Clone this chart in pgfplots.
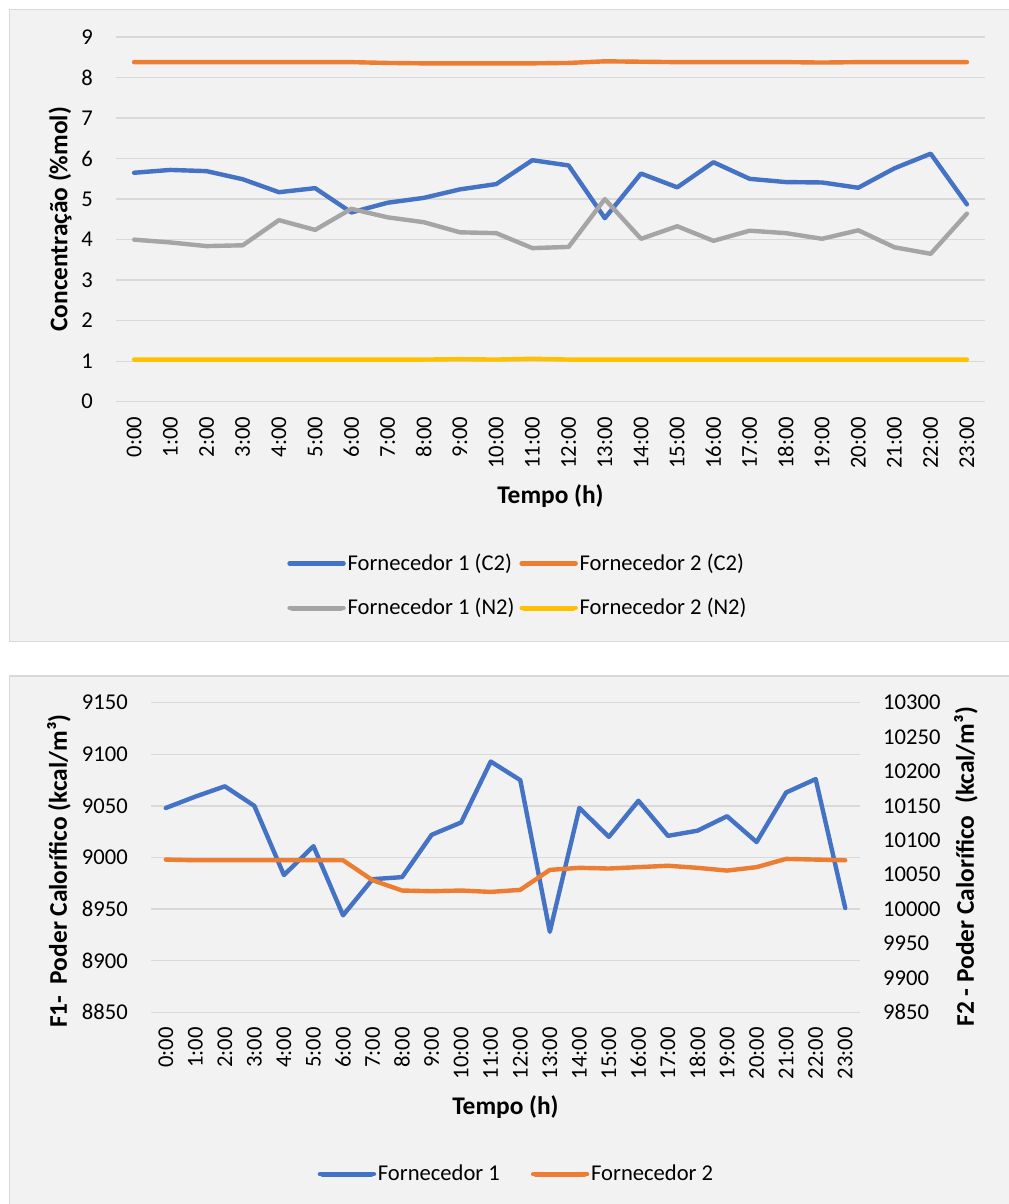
\documentclass[border=0pt]{standalone}
\usepackage{fontspec}
\setmainfont{Carlito}
\usepackage{pgfplots}
\usepackage{pgfplotstable}
\pgfplotsset{compat=1.18}

\definecolor{xblue}{HTML}{4472C4}
\definecolor{xorange}{HTML}{ED7D31}
\definecolor{xgray}{HTML}{A5A5A5}
\definecolor{xyellow}{HTML}{FFC000}
\definecolor{panel}{HTML}{F2F2F2}
\definecolor{gridc}{HTML}{D9D9D9}

\newcommand\tickfont{\fontsize{11.3}{13.6}\selectfont}
\newcommand\titlefont{\fontsize{12.7}{15.2}\selectfont\bfseries}

% hourly composition (%mol)
\pgfplotstableread{
hour F1C2 F2C2 F1N2 F2N2
0  5.65 8.38 4.00 1.04
1  5.72 8.38 3.93 1.04
2  5.69 8.38 3.84 1.04
3  5.49 8.38 3.86 1.04
4  5.17 8.38 4.48 1.04
5  5.27 8.38 4.24 1.04
6  4.67 8.38 4.76 1.04
7  4.91 8.36 4.55 1.04
8  5.03 8.35 4.43 1.04
9  5.24 8.35 4.18 1.05
10 5.37 8.35 4.16 1.04
11 5.96 8.35 3.79 1.06
12 5.83 8.36 3.82 1.04
13 4.53 8.40 5.00 1.04
14 5.63 8.39 4.02 1.04
15 5.29 8.38 4.33 1.04
16 5.91 8.38 3.97 1.04
17 5.50 8.38 4.22 1.04
18 5.42 8.38 4.16 1.04
19 5.41 8.37 4.02 1.04
20 5.28 8.38 4.23 1.04
21 5.76 8.38 3.81 1.04
22 6.12 8.38 3.65 1.04
23 4.87 8.38 4.64 1.04
}\composicao

% hourly heating value (kcal/m3)
\pgfplotstableread{
hour F1 F2
0  9048 10072
1  9059 10071
2  9069 10071
3  9050 10071
4  8983 10071
5  9011 10071
6  8944 10071
7  8979 10042
8  8981 10027
9  9022 10026
10 9034 10027
11 9093 10025
12 9075 10028
13 8928 10057
14 9048 10060
15 9020 10059
16 9055 10061
17 9021 10063
18 9026 10060
19 9040 10056
20 9015 10061
21 9063 10073
22 9076 10072
23 8951 10071
}\poder

\pgfplotsset{
  excelbase/.style={
    scale only axis, anchor=south west,
    xmin=-0.5, xmax=23.5,
    xtick={0,...,23},
    xticklabels={0:00,1:00,2:00,3:00,4:00,5:00,6:00,7:00,8:00,9:00,10:00,11:00,
                 12:00,13:00,14:00,15:00,16:00,17:00,18:00,19:00,20:00,21:00,22:00,23:00},
    axis line style={draw=none},
    major tick length=0pt,
    tick style={draw=none},
    ymajorgrids, grid style={gridc, line width=0.65pt},
    tick label style={font=\tickfont, inner sep=0pt},
    xticklabel style={rotate=90, anchor=east},
    xticklabel shift=7.4pt,
    yticklabel shift=11.4pt,
    /pgf/number format/assume math mode=true,
    /pgf/number format/1000 sep={},
    scaled y ticks=false,
    every axis plot/.append style={line width=2.2pt, line join=round, line cap=round},
    legend cell align=left,
    legend image code/.code={
      \path (0pt,0pt) -- (27pt,0pt);
      \draw[#1, line width=2.4pt, line cap=round] (1.2pt,0pt) -- (25.8pt,0pt);
    },
  },
}

\begin{document}
\begin{tikzpicture}
\useasboundingbox (0,0) rectangle (504pt,-602pt);
\fill[white] (0,0) rectangle (504pt,-602pt);
\draw[fill=panel, draw=gridc, line width=0.7pt] (4.85pt,-4.65pt) rectangle (506pt,-320.85pt);
\draw[fill=panel, draw=gridc, line width=0.7pt] (4.85pt,-338pt) rectangle (506pt,-604pt);

% composition chart
\begin{axis}[excelbase,
  at={(58pt,-200.85pt)}, width=434.5pt, height=182.35pt,
  ymin=0, ymax=9, ytick={0,...,9},
  xlabel={Tempo (h)}, ylabel={Concentração (\%mol)},
  every axis x label/.style={at={(axis description cs:0.5,-0.259)}, anchor=center, font=\titlefont},
  every axis y label/.style={at={(axis description cs:-0.0644,0.5)}, rotate=90, anchor=center, font=\titlefont},
  legend columns=2,
  legend style={at={(axis description cs:0.4614,-0.5048)}, anchor=center,
    draw=none, fill=none, font=\tickfont, inner sep=0pt, nodes={inner sep=0pt},
    row sep=12.6pt,
    /tikz/every odd column/.append style={column sep=0.9pt},
    /tikz/every even column/.append style={column sep=2.5pt}},
]
\addplot[xblue] table[x=hour, y=F1C2] {\composicao};
\addlegendentry{Fornecedor 1 (C2)}
\addplot[xorange] table[x=hour, y=F2C2] {\composicao};
\addlegendentry{Fornecedor 2 (C2)}
\addplot[xgray] table[x=hour, y=F1N2] {\composicao};
\addlegendentry{Fornecedor 1 (N2)}
\addplot[xyellow] table[x=hour, y=F2N2] {\composicao};
\addlegendentry{Fornecedor 2 (N2)}
\end{axis}

% heating value chart, supplier 1 on the left scale
\begin{axis}[excelbase,
  at={(75.5pt,-506.15pt)}, width=354.5pt, height=154.8pt,
  ymin=8850, ymax=9150, ytick={8850,8900,...,9150},
  xlabel={Tempo (h)}, ylabel={F1-\ \ Poder Calorífico (kcal/m³)},
  every axis x label/.style={at={(axis description cs:0.5,-0.3045)}, anchor=center, font=\titlefont},
  every axis y label/.style={at={(axis description cs:-0.1298,0.456)}, rotate=90, anchor=center, font=\titlefont},
  legend columns=2,
  legend style={at={(axis description cs:0.514,-0.523)}, anchor=center,
    draw=none, fill=none, font=\tickfont, inner sep=0pt, nodes={inner sep=0pt},
    /tikz/every odd column/.append style={column sep=0.9pt},
    /tikz/every even column/.append style={column sep=15.5pt}},
]
\addplot[xblue] table[x=hour, y=F1] {\poder};
\addlegendentry{Fornecedor 1}
\addlegendimage{xorange, line width=2.2pt}
\addlegendentry{Fornecedor 2}
\end{axis}

% supplier 2 on the right scale
\begin{axis}[excelbase,
  at={(75.5pt,-506.15pt)}, width=354.5pt, height=154.8pt,
  ymin=9850, ymax=10300, ytick={9850,9900,...,10300},
  ymajorgrids=false,
  hide x axis, axis y line*=right, y axis line style={draw=none},
  yticklabel style={anchor=west},
  ylabel={F2 - Poder Calorífico\ \ (kcal/m³)},
  every axis y label/.style={at={(axis description cs:1.1495,0.470)}, rotate=90, anchor=center, font=\titlefont},
]
\addplot[xorange] table[x=hour, y=F2] {\poder};
\end{axis}
\end{tikzpicture}
\end{document}
